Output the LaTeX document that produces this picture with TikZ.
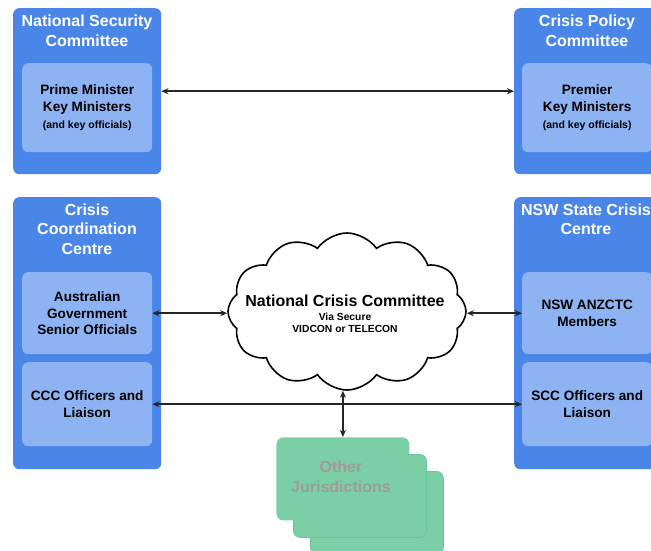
\documentclass[tikz,border=0pt]{standalone}
\usepackage{fontspec}
\setmainfont{Liberation Sans}
\usetikzlibrary{shapes.symbols,arrows.meta}
\definecolor{outerblue}{HTML}{4A86E8}
\definecolor{innerblue}{HTML}{8DB3F3}
\definecolor{cardgreen}{HTML}{7ACFA7}
\definecolor{cardedge}{HTML}{6CC49A}
\definecolor{cardtext}{HTML}{A39A9A}
\begin{document}
\begin{tikzpicture}[x=1pt,y=-1pt,
  outerbox/.style={fill=outerblue, rounded corners=6pt, inner sep=0pt, anchor=north west},
  innerbox/.style={fill=innerblue, rounded corners=6pt, inner sep=0pt, anchor=north west,
    align=center, font=\bfseries\fontsize{13.6}{17}\selectfont, text=black},
  titletext/.style={align=center, text=white, font=\bfseries\fontsize{16}{19.5}\selectfont, inner sep=0pt},
  card/.style={fill=cardgreen, draw=cardedge, line width=0.8pt, rounded corners=7pt, inner sep=0pt,
    anchor=north west, minimum width=133pt, minimum height=83pt},
  conn/.style={{Stealth[length=7pt,width=6pt]}-{Stealth[length=7pt,width=6pt]}, line width=1.5pt, black!85}
]
\useasboundingbox (0,0) rectangle (651,551);
\clip (0,0) rectangle (651,551);
\fill[white] (0,0) rectangle (651,551);

% National Security Committee
\node[outerbox, minimum width=148pt, minimum height=166pt] (nscO) at (13,8) {};
\node[titletext] (nscT) at (87,31) {National Security\\Committee};
\node[innerbox, minimum width=130pt, minimum height=89pt] (nscI) at (22,63)
  {Prime Minister\\Key Ministers\\{\fontsize{10.5}{14}\selectfont (and key officials)}};

% Crisis Policy Committee
\node[outerbox, minimum width=146pt, minimum height=166pt] (cpcO) at (514,8) {};
\node[titletext] (cpcT) at (587,31) {Crisis Policy\\Committee};
\node[innerbox, minimum width=130pt, minimum height=89pt] (cpcI) at (522,63)
  {Premier\\Key Ministers\\{\fontsize{10.5}{14}\selectfont (and key officials)}};

% Crisis Coordination Centre
\node[outerbox, minimum width=148pt, minimum height=272pt] (cccO) at (13,197) {};
\node[titletext] (cccT) at (87,229) {Crisis\\Coordination\\Centre};
\node[innerbox, minimum width=130pt, minimum height=82pt, font=\bfseries\fontsize{13.6}{16.5}\selectfont] (cccA) at (22,272)
  {Australian\\Government\\Senior Officials};
\node[innerbox, minimum width=130pt, minimum height=84pt, font=\bfseries\fontsize{13.6}{16.5}\selectfont] (cccB) at (22,362)
  {CCC Officers and\\Liaison};

% NSW State Crisis Centre
\node[outerbox, minimum width=146pt, minimum height=272pt] (nswO) at (514,197) {};
\node[titletext] (nswT) at (586,219.5) {NSW State Crisis\\Centre};
\node[innerbox, minimum width=130pt, minimum height=82pt, font=\bfseries\fontsize{13.6}{16.5}\selectfont] (nswA) at (522,272)
  {NSW ANZCTC\\Members};
\node[innerbox, minimum width=130pt, minimum height=84pt, font=\bfseries\fontsize{13.6}{16.5}\selectfont] (nswB) at (522,362)
  {SCC Officers and\\Liaison};

% Cloud
\node[cloud, draw=black, fill=white, line width=1.6pt, cloud puffs=12, cloud puff arc=110,
  cloud ignores aspect, minimum width=238pt, minimum height=157pt, inner sep=0pt] (ncc) at (347,311.5) {};
\node[align=center, inner sep=0pt, font=\bfseries] (nccT) at (345,313.5)
  {{\fontsize{16}{17}\selectfont National Crisis Committee}\\[2pt]
   {\fontsize{10.3}{12}\selectfont Via Secure}\\
   {\fontsize{10.3}{12}\selectfont VIDCON or TELECON}};

% Other jurisdictions
\node[card] (jur3) at (310,471) {};
\node[card] (jur2) at (293,454) {};
\node[card, draw=none] (jur1) at (276,437) {};
\node[align=center, inner sep=0pt, text=cardtext, font=\bfseries\fontsize{16}{20}\selectfont] (jurT) at (341,477)
  {Other\\Jurisdictions};

% Connectors
\draw[conn] (nscO.east) -- (cpcO.west);
\draw[conn] (cccA.east) -- (cccA.east -| ncc.west);
\draw[conn] (nswA.west -| ncc.east) -- (nswA.west);
\draw[conn] (cccB.east) -- (nswB.west);
\draw[conn] (jur1.north) -- (jur1.north |- ncc.south);
\end{tikzpicture}
\end{document}
